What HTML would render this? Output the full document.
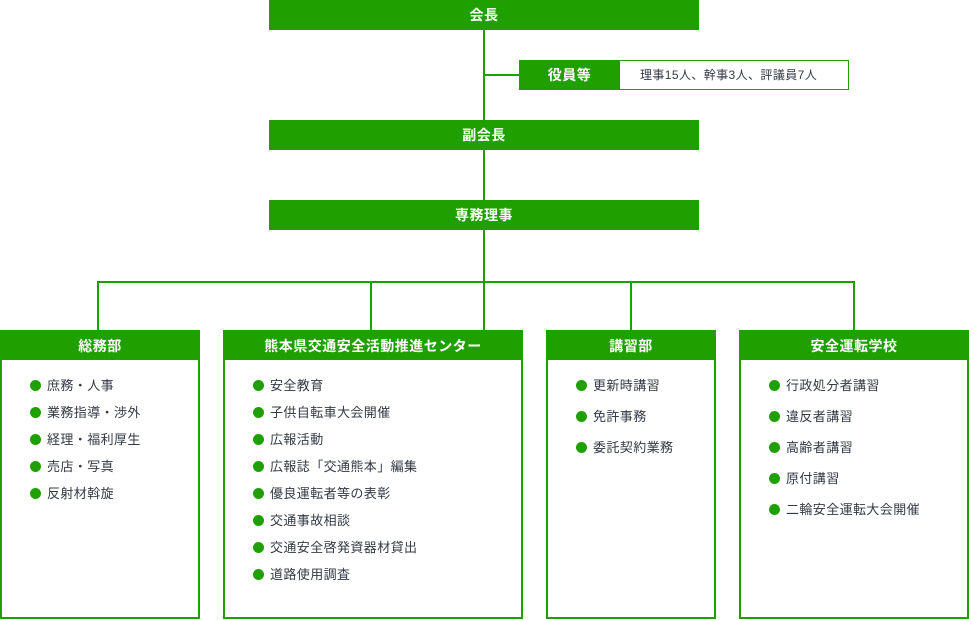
<!DOCTYPE html><html><head><meta charset="utf-8"><style>
body{margin:0;width:969px;height:620px;position:relative;background:#fff;font-family:"Liberation Sans","Noto Sans CJK JP",sans-serif;overflow:hidden}
.a{position:absolute}
.g{background:#1fa000;color:#fff;font-weight:bold;font-size:14px;text-align:center;letter-spacing:0.5px}
.l{position:absolute;background:#1fa000}
.box{position:absolute;border:2px solid #1fa000;box-sizing:border-box;top:330px;height:289px}
.box .h{height:28px;line-height:28px;background:#1fa000;color:#fff;font-weight:bold;font-size:14px;text-align:center;letter-spacing:0.5px}
.box ul{list-style:none;margin:0;padding:12px 0 0 28px}
.box li{font-size:13px;color:#333a44;height:27px;line-height:27px;position:relative;padding-left:17px;letter-spacing:0.4px}
.box li:before{content:"";position:absolute;left:0;top:8px;width:11px;height:11px;border-radius:50%;background:#1fa000}
.box.w ul{padding-top:10px}
.box.w li{height:31px;line-height:31px}
.box.w li:before{top:10px}
</style></head><body>
<div class="l" style="left:483px;top:30px;width:2px;height:90px"></div>
<div class="l" style="left:483px;top:74px;width:36px;height:2px"></div>
<div class="l" style="left:483px;top:150px;width:2px;height:50px"></div>
<div class="l" style="left:483px;top:230px;width:2px;height:100px"></div>
<div class="l" style="left:97px;top:281px;width:758px;height:2px"></div>
<div class="l" style="left:97px;top:281px;width:2px;height:49px"></div>
<div class="l" style="left:370px;top:281px;width:2px;height:49px"></div>
<div class="l" style="left:630px;top:281px;width:2px;height:49px"></div>
<div class="l" style="left:853px;top:281px;width:2px;height:49px"></div>
<div class="a g" style="left:269px;top:0;width:430px;height:30px;line-height:30px">会長</div>
<div class="a g" style="left:519px;top:60px;width:101px;height:30px;line-height:30px">役員等</div>
<div class="a" style="left:619px;top:60px;width:230px;height:30px;box-sizing:border-box;border:1px solid #1fa000;font-size:12px;color:#333a44;line-height:28px;padding-left:20px;letter-spacing:0.4px">理事15人、幹事3人、評議員7人</div>
<div class="a g" style="left:269px;top:120px;width:430px;height:30px;line-height:30px">副会長</div>
<div class="a g" style="left:269px;top:200px;width:430px;height:30px;line-height:30px">専務理事</div>
<div class="box" style="left:0;width:200px"><div class="h">総務部</div><ul><li>庶務・人事</li><li>業務指導・渉外</li><li>経理・福利厚生</li><li>売店・写真</li><li>反射材斡旋</li></ul></div>
<div class="box" style="left:223px;width:300px"><div class="h">熊本県交通安全活動推進センター</div><ul><li>安全教育</li><li>子供自転車大会開催</li><li>広報活動</li><li>広報誌「交通熊本」編集</li><li>優良運転者等の表彰</li><li>交通事故相談</li><li>交通安全啓発資器材貸出</li><li>道路使用調査</li></ul></div>
<div class="box w" style="left:546px;width:170px"><div class="h">講習部</div><ul><li>更新時講習</li><li>免許事務</li><li>委託契約業務</li></ul></div>
<div class="box w" style="left:739px;width:230px"><div class="h">安全運転学校</div><ul><li>行政処分者講習</li><li>違反者講習</li><li>高齢者講習</li><li>原付講習</li><li>二輪安全運転大会開催</li></ul></div>
</body></html>
